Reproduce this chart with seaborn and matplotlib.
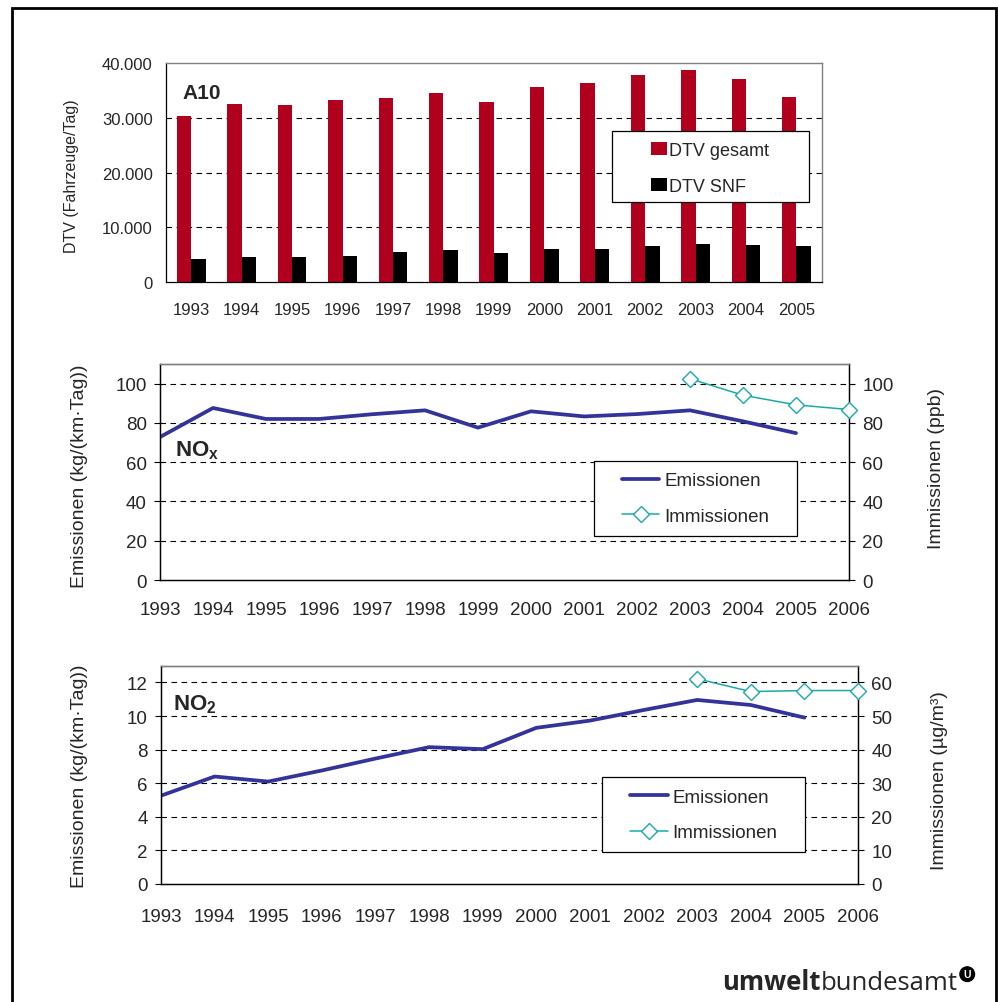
import numpy as np
import pandas as pd
import seaborn as sns
import matplotlib
matplotlib.use('Agg')
import matplotlib.pyplot as plt
from matplotlib.patches import Rectangle

# Daten A10
jahre_dtv = ['1993', '1994', '1995', '1996', '1997', '1998', '1999',
             '2000', '2001', '2002', '2003', '2004', '2005']
dtv_gesamt = [30400, 32500, 32300, 33200, 33600, 34500, 32800,
              35700, 36400, 37900, 38700, 37000, 33800]
dtv_snf = [4260, 4680, 4680, 4860, 5530, 5960, 5350,
           6140, 6140, 6630, 7050, 6870, 6630]
dtv_ticks = [0, 10000, 20000, 30000, 40000]
dtv_ticklabels = ['0', '10.000', '20.000', '30.000', '40.000']

jahre_achse = list(range(1993, 2007))
jahre_emi = list(range(1993, 2006))
jahre_imm = [2003, 2004, 2005, 2006]

nox_emi = [72.8, 87.6, 82.0, 82.0, 84.4, 86.4, 77.6, 85.9, 83.3, 84.5, 86.4, 80.8, 74.8]
nox_imm = [102.5, 94.1, 89.2, 86.8]
no2_emi = [5.26, 6.40, 6.10, 6.76, 7.47, 8.15, 8.03, 9.30, 9.73, 10.36, 10.96, 10.66, 9.91]
no2_imm = [61.1, 57.3, 57.6, 57.6]

ROT = '#B0001E'
BLAU = '#333399'
TUERKIS = '#1CA9A9'
GRAU = '#808080'

sns.set_style('white')
plt.rcParams['font.family'] = ['Liberation Sans', 'DejaVu Sans']
plt.rcParams['mathtext.fontset'] = 'custom'
plt.rcParams['mathtext.rm'] = 'Liberation Sans'
plt.rcParams['mathtext.bf'] = 'Liberation Sans:bold'

fig = plt.figure(figsize=(9.98, 10.03), dpi=100)
W, H = 998, 1003


def px_axes(x0, y0, x1, y1):
    return fig.add_axes([x0 / W, 1 - y1 / H, (x1 - x0) / W, (y1 - y0) / H])


def grid_dashed(ax, ticks):
    for t in ticks:
        ax.axhline(t, color='black', lw=0.8, ls=(0, (5, 4)), zorder=0.5)


# ---------- Panel 1: DTV ----------
ax1 = px_axes(166, 64, 821.7, 283.3)
df_dtv = pd.DataFrame({
    'Jahr': jahre_dtv * 2,
    'DTV': dtv_gesamt + dtv_snf,
    'Typ': ['DTV gesamt'] * len(jahre_dtv) + ['DTV SNF'] * len(jahre_dtv),
})
sns.barplot(data=df_dtv, x='Jahr', y='DTV', hue='Typ', palette=[ROT, 'black'],
            saturation=1, width=0.57, ax=ax1, edgecolor='none', zorder=2)
ax1.set_xlim(-0.5, 12.5)
ax1.set_ylim(0, 40000)
ax1.set_yticks(dtv_ticks)
ax1.set_yticklabels(dtv_ticklabels)
grid_dashed(ax1, dtv_ticks[1:-1])
ax1.set_xticks(np.arange(-0.5, 13, 1), minor=True)
ax1.tick_params(axis='x', which='major', length=0, pad=14, labelsize=12)
ax1.tick_params(axis='x', which='minor', length=4.5, width=0.8, direction='out', color='black')
ax1.tick_params(axis='y', length=4.5, width=0.8, direction='out', pad=5, labelsize=12, color='black')
ax1.set_xlabel('')
ax1.set_ylabel('DTV (Fahrzeuge/Tag)', fontsize=11.5)
ax1.yaxis.set_label_coords(-0.133, 0.49)
for s in ['left', 'bottom']:
    ax1.spines[s].set_color('black')
    ax1.spines[s].set_linewidth(0.9)
for s in ['top', 'right']:
    ax1.spines[s].set_color(GRAU)
    ax1.spines[s].set_linewidth(1.0)
ax1.text(0.0255, 0.84, 'A10', transform=ax1.transAxes, fontsize=15,
         fontweight='bold', va='baseline', ha='left')
ax1.add_patch(Rectangle((0.680, 0.368), 0.301, 0.321, transform=ax1.transAxes,
                        fc='white', ec='black', lw=0.9, zorder=4))
sns.move_legend(ax1, loc='center left', bbox_to_anchor=(0.739, 0.52),
                title=None, frameon=False, fontsize=13, borderpad=0,
                borderaxespad=0, handlelength=0.89, handleheight=0.72,
                handletextpad=0.15, labelspacing=1.05)
ax1.get_legend().set_zorder(5)


def linienpanel(box, emi, imm, ylim_l, ylim_r, ticks_l, ticks_r,
                ylabel_r, label_xy, label_text, rect, leg_anchor,
                ylab_l_pos, ylab_r_pos, xpad):
    ax = px_axes(*box)
    ax2 = ax.twinx()
    grid_dashed(ax, ticks_l[1:])
    sns.lineplot(x=jahre_emi, y=emi, ax=ax, color=BLAU, lw=2.7,
                 label='Emissionen', zorder=3)
    sns.lineplot(x=jahre_imm, y=imm, ax=ax2, color=TUERKIS, lw=1.1,
                 marker='D', markersize=8.5, markerfacecolor='white',
                 markeredgecolor=TUERKIS, markeredgewidth=1.0,
                 label='Immissionen', clip_on=False, zorder=3)
    for a in (ax, ax2):
        if a.get_legend() is not None:
            a.get_legend().remove()
    ax.set_xlim(1993, 2006)
    ax.set_ylim(*ylim_l)
    ax2.set_ylim(*ylim_r)
    ax.set_xticks(jahre_achse)
    ax.set_xticklabels([str(j) for j in jahre_achse])
    ax.set_yticks(ticks_l)
    ax2.set_yticks(ticks_r)
    ax.tick_params(axis='x', length=4.5, width=0.8, direction='out', pad=xpad,
                   labelsize=13.5, color='black')
    ax.tick_params(axis='y', length=4.5, width=0.8, direction='out', pad=5,
                   labelsize=13.5, color='black')
    ax2.tick_params(axis='y', length=4.5, width=0.8, direction='out', pad=5,
                    labelsize=13.5, color='black')
    ax.set_ylabel('Emissionen (kg/(km·Tag))', fontsize=14)
    ax2.set_ylabel(ylabel_r, fontsize=14)
    ax.yaxis.set_label_coords(*ylab_l_pos)
    ax2.yaxis.set_label_coords(*ylab_r_pos)
    for a in (ax, ax2):
        for s in ['left', 'bottom', 'right']:
            a.spines[s].set_color('black')
            a.spines[s].set_linewidth(0.9)
        a.spines['top'].set_color(GRAU)
        a.spines['top'].set_linewidth(1.0)
    ax.text(label_xy[0], label_xy[1], label_text, transform=ax.transAxes,
            fontsize=16, va='baseline', ha='left')
    ax2.add_patch(Rectangle(rect[:2], rect[2], rect[3], transform=ax2.transAxes,
                            fc='white', ec='black', lw=0.9, zorder=4))
    leg = ax2.legend([ax.lines[-1], ax2.lines[-1]], ['Emissionen', 'Immissionen'],
                     loc='center left', bbox_to_anchor=leg_anchor, frameon=False,
                     fontsize=13.5, borderpad=0, borderaxespad=0,
                     handlelength=2.0, handletextpad=0.27, labelspacing=0.98)
    leg.set_zorder(5)
    return ax, ax2


# ---------- Panel 2: NOx ----------
linienpanel((160, 365, 849, 581), nox_emi, nox_imm, (0, 110), (0, 110),
            [0, 20, 40, 60, 80, 100], [0, 20, 40, 60, 80, 100],
            'Immissionen (ppb)', (0.0218, 0.575), r'$\mathbf{NO_x}$',
            (0.630, 0.2037, 0.2946, 0.347), (0.6705, 0.377),
            (-0.1045, 0.486), (1.1146, 0.523), 10.5)

# ---------- Panel 3: NO2 ----------
linienpanel((161, 666.7, 858, 885), no2_emi, no2_imm, (0, 13), (0, 65),
            [0, 2, 4, 6, 8, 10, 12], [0, 10, 20, 30, 40, 50, 60],
            'Immissionen (µg/m³)', (0.0176, 0.80), r'$\mathbf{NO_2}$',
            (0.633, 0.145, 0.291, 0.3436), (0.673, 0.317),
            (-0.105, 0.50), (1.105, 0.48), 12.5)

# Rahmen
fig.add_artist(Rectangle((12 / W, -0.05), (996 - 12) / W, 1.05 + (1 - 9 / H) - 1,
                         transform=fig.transFigure, fill=False, ec='black', lw=2.0))

# Logo
t1 = fig.text(722 / W, 1 - 990 / H, 'umwelt', fontsize=18.5, fontweight='bold',
              family='Open Sans', va='baseline', ha='left')
t2 = plt.annotate('bundesamt', xy=(1, 0), xycoords=t1, fontsize=18.5,
                  family='Open Sans', va='bottom', ha='left',
                  annotation_clip=False)
plt.annotate('U', xy=(1, 1), xycoords=t2, xytext=(7, -3),
             textcoords='offset points', fontsize=7.5, fontweight='bold',
             color='white', ha='center', va='center', annotation_clip=False,
             bbox=dict(boxstyle='circle,pad=0.22', fc='black', ec='black'))

fig.savefig('out.png', dpi=100)
